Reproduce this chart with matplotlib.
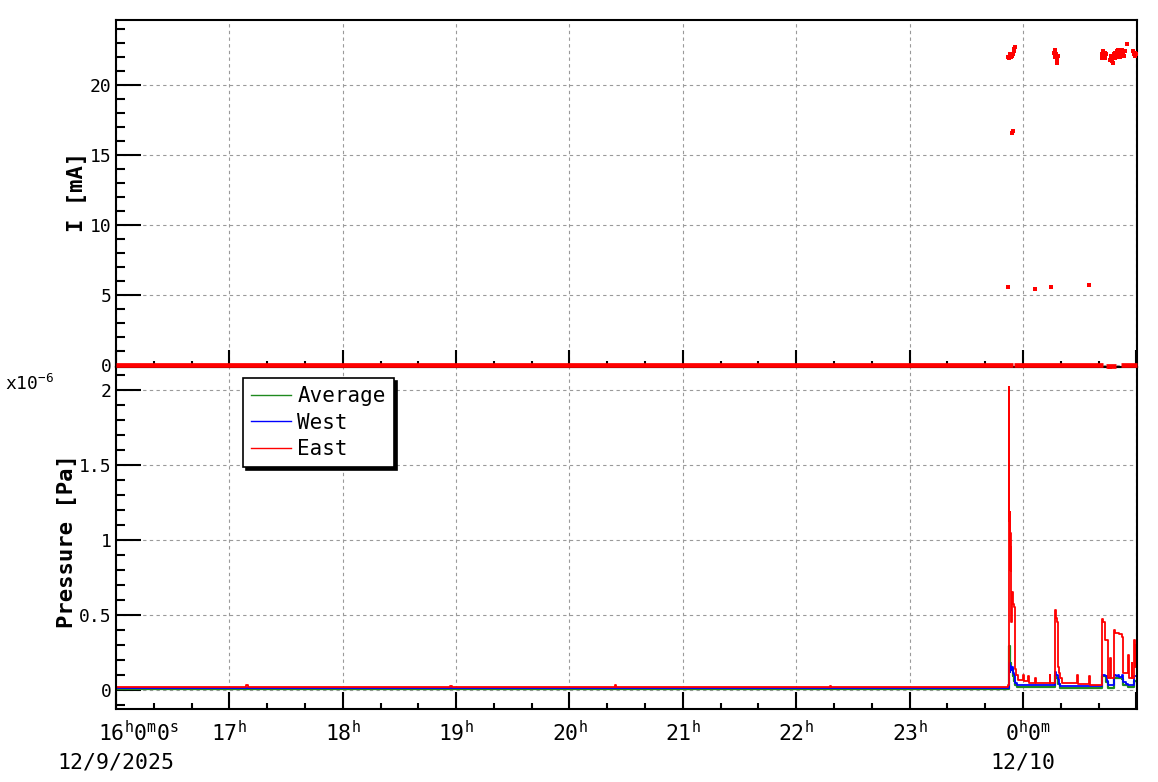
import matplotlib
matplotlib.use('Agg')
import matplotlib.pyplot as plt
from matplotlib.ticker import MultipleLocator, FuncFormatter, NullFormatter

plt.rcParams['font.family'] = ['DejaVu Sans Mono', 'DejaVu Sans']
plt.rcParams['mathtext.fontset'] = 'custom'
plt.rcParams['mathtext.rm'] = 'DejaVu Sans Mono'
plt.rcParams['mathtext.it'] = 'DejaVu Sans Mono'
plt.rcParams['mathtext.bf'] = 'DejaVu Sans Mono:bold'

# ---------------- data (time = hours since 16:00, 12/9/2025) ----------------
hour_ticks = [0, 1, 2, 3, 4, 5, 6, 7, 8]
hour_labels = ['16$^{h}$0$^{m}$0$^{s}$', '17$^{h}$', '18$^{h}$', '19$^{h}$', '20$^{h}$',
               '21$^{h}$', '22$^{h}$', '23$^{h}$', '0$^{h}$0$^{m}$']
date_ticks = [0, 8]
date_labels = ['12/9/2025', '12/10']

# beam current I [mA]: intervals where it reads zero
zero_start = [0.000, 7.920, 8.732, 8.864]
zero_end = [7.912, 8.705, 8.820, 9.006]
zero_level = [0.0, 0.0, -0.04, 0.0]

# isolated non-zero current readings
cur_t = [7.866, 7.874, 7.882, 7.890, 7.898, 7.906, 7.914, 7.920, 7.924, 7.928,
         7.903, 7.908,
         7.868, 8.106, 8.247, 8.582,
         8.273, 8.279, 8.285, 8.291, 8.296, 8.300, 8.305,
         8.693, 8.700, 8.707, 8.714, 8.720, 8.727, 8.733,
         8.770, 8.777, 8.783, 8.790, 8.796, 8.802, 8.808, 8.815, 8.821, 8.828,
         8.835, 8.842, 8.850, 8.858, 8.866, 8.873, 8.880, 8.918, 8.900, 8.888,
         8.972, 8.978, 8.985, 8.992, 9.000, 8.767]
cur_v = [22.0, 21.9, 22.0, 22.2, 22.0, 22.1, 22.2, 22.4, 22.6, 22.7,
         16.6, 16.7,
         5.6, 5.4, 5.6, 5.7,
         22.3, 22.5, 22.0, 22.2, 21.8, 21.6, 22.1,
         21.9, 22.2, 22.4, 22.0, 22.3, 21.9, 22.2,
         21.8, 22.1, 21.7, 22.0, 21.6, 22.2, 21.9, 22.3, 22.0, 22.4,
         22.2, 22.5, 22.3, 22.0, 22.4, 22.5, 22.2, 22.9, 22.4, 22.1,
         22.4, 22.2, 22.1, 22.3, 22.2, -0.12]

# pressure, units of 1e-6 Pa
avg_t = [0.000, 7.876, 7.879, 7.884, 7.890, 7.897, 7.905, 7.915, 7.925, 7.932, 7.950,
         8.285, 8.295, 8.310, 8.330, 8.700, 8.730, 8.753, 8.803, 8.870, 8.885,
         8.930, 8.982, 9.006]
avg_v = [0.005, 0.005, 0.290, 0.150, 0.180, 0.130, 0.140, 0.090, 0.060, 0.030, 0.018,
         0.100, 0.080, 0.040, 0.015, 0.090, 0.050, 0.015, 0.080, 0.070, 0.030,
         0.020, 0.060, 0.050]

west_t = [0.000, 7.876, 7.879, 7.885, 7.890, 7.897, 7.905, 7.915, 7.925, 7.932, 7.950,
          8.285, 8.295, 8.305, 8.315, 8.330, 8.700, 8.720, 8.740, 8.753, 8.803,
          8.820, 8.835, 8.850, 8.870, 8.885, 8.905, 8.930, 8.960, 8.982, 9.006]
west_v = [0.013, 0.013, 0.180, 0.120, 0.160, 0.130, 0.150, 0.110, 0.100, 0.045, 0.030,
          0.120, 0.100, 0.070, 0.040, 0.025, 0.100, 0.090, 0.060, 0.030, 0.100,
          0.090, 0.100, 0.085, 0.100, 0.050, 0.040, 0.035, 0.030, 0.090, 0.100]

east_t = [0.000, 1.150, 1.160, 2.950, 2.960, 4.400, 4.410, 6.300, 6.310, 7.872,
          7.876, 7.879, 7.882, 7.884, 7.887, 7.889, 7.892, 7.894, 7.897, 7.900,
          7.909, 7.920, 7.929, 7.938, 7.956, 8.003, 8.008, 8.044, 8.050, 8.109,
          8.114, 8.238, 8.243, 8.285, 8.290, 8.300, 8.306, 8.315, 8.326, 8.345,
          8.479, 8.484, 8.585, 8.590, 8.700, 8.709, 8.720, 8.753, 8.768, 8.773,
          8.803, 8.815, 8.850, 8.870, 8.885, 8.929, 8.934, 8.958, 8.963, 8.982,
          8.988, 8.994, 9.006]
east_v = [0.022, 0.030, 0.022, 0.028, 0.022, 0.030, 0.022, 0.028, 0.022, 0.030,
          2.020, 1.130, 0.800, 1.190, 0.850, 1.050, 0.790, 0.950, 0.450, 0.650,
          0.570, 0.550, 0.140, 0.100, 0.065, 0.100, 0.060, 0.090, 0.045, 0.080,
          0.045, 0.100, 0.045, 0.530, 0.480, 0.450, 0.150, 0.110, 0.080, 0.045,
          0.100, 0.040, 0.090, 0.033, 0.470, 0.450, 0.330, 0.080, 0.210, 0.080,
          0.400, 0.380, 0.370, 0.350, 0.110, 0.230, 0.080, 0.180, 0.080, 0.330,
          0.150, 0.300, 0.200]

# ---------------- figure ----------------
W, H = 1158, 782
fig = plt.figure(figsize=(W / 100, H / 100), dpi=100)
L, R = 116, 1137
ax1 = fig.add_axes([L / W, 1 - 366.5 / H, (R - L) / W, 346.5 / H])
ax2 = fig.add_axes([L / W, 1 - 709 / H, (R - L) / W, 342.5 / H])
ax1.set_zorder(3)

grid_kw = dict(color='#9a9a9a', linestyle=(0, (3, 3)), linewidth=0.8)

for ax in (ax1, ax2):
    ax.set_xlim(0, 9.006)
    ax.xaxis.set_major_locator(MultipleLocator(1))
    ax.xaxis.set_minor_locator(MultipleLocator(1 / 3))
    ax.xaxis.set_major_formatter(NullFormatter())
    for s in ax.spines.values():
        s.set_linewidth(1.5)
    ax.tick_params(axis='x', which='major', direction='in', length=12, width=1.5,
                   top=False, bottom=True)
    ax.tick_params(axis='x', which='minor', direction='in', length=4, width=1.5,
                   top=False, bottom=True)
    ax.tick_params(axis='y', which='major', direction='in', length=18, width=1.5,
                   right=False, labelsize=13, pad=3)
    ax.tick_params(axis='y', which='minor', direction='in', length=6.5, width=1.5,
                   right=False)
    ax.grid(True, which='major', **grid_kw)
    ax.set_axisbelow(True)
ax1.patch.set_alpha(0)

# top panel: current
ax1.set_ylim(-0.107, 24.64)
ax1.yaxis.set_major_locator(MultipleLocator(5))
ax1.yaxis.set_minor_locator(MultipleLocator(1))
ax1.hlines(zero_level, zero_start, zero_end, colors='red', linewidth=3.4, zorder=3,
           clip_on=False)
ax1.plot(cur_t, cur_v, linestyle='none', marker='s', markersize=3.2, color='red',
         markeredgewidth=0, zorder=3, clip_on=False)
ax1.set_ylabel('I [mA]', fontsize=16, fontweight='bold')
ax1.yaxis.set_label_coords((87 - L) / (R - L), 0.505)

# bottom panel: pressure
ax2.set_ylim(-0.127, 2.157)
ax2.yaxis.set_major_locator(MultipleLocator(0.5))
ax2.yaxis.set_minor_locator(MultipleLocator(0.1))
ax2.yaxis.set_major_formatter(FuncFormatter(lambda v, p: f'{v:g}'))
ax2.plot(avg_t, avg_v, drawstyle='steps-post', color='#1f8a1f', linewidth=1.6, label='Average')
ax2.plot(west_t, west_v, drawstyle='steps-post', color='blue', linewidth=1.3, label='West')
ax2.plot(east_t, east_v, drawstyle='steps-post', color='red', linewidth=1.3, label='East')
ax2.set_ylabel('Pressure [Pa]', fontsize=16, fontweight='bold')
ax2.yaxis.set_label_coords((77 - L) / (R - L), 0.49)

fig.text(5 / W, 1 - 390 / H, 'x10$^{-6}$', fontsize=13, va='baseline', ha='left')

leg = ax2.legend(loc='upper left',
                 bbox_to_anchor=((243 - L) / (R - L), (709 - 378) / 342.5),
                 borderaxespad=0, frameon=True, fancybox=False, framealpha=1,
                 edgecolor='black', fontsize=15, handlelength=1.9,
                 handletextpad=0.3, labelspacing=0.3, borderpad=0.4,
                 shadow={'facecolor': 'black', 'edgecolor': 'black', 'alpha': 1})
leg.get_frame().set_linewidth(1.2)
for h in leg.get_lines():
    h.set_linewidth(1.0)

# x tick labels (time of day + date)
for t, lbl in zip(hour_ticks, hour_labels):
    dx = 0
    if t == 0:
        dx = 16
    elif t == 8:
        dx = 3.5
    ax2.annotate(lbl, xy=(t, 0), xycoords=('data', 'axes fraction'),
                 xytext=(dx, -23), textcoords='offset points',
                 ha='center', va='baseline', fontsize=15.5)
for t, lbl in zip(date_ticks, date_labels):
    ax2.annotate(lbl, xy=(t, 0), xycoords=('data', 'axes fraction'),
                 xytext=(0, -42.5), textcoords='offset points',
                 ha='center', va='baseline', fontsize=15.5)

fig.savefig('out.png', dpi=100)
